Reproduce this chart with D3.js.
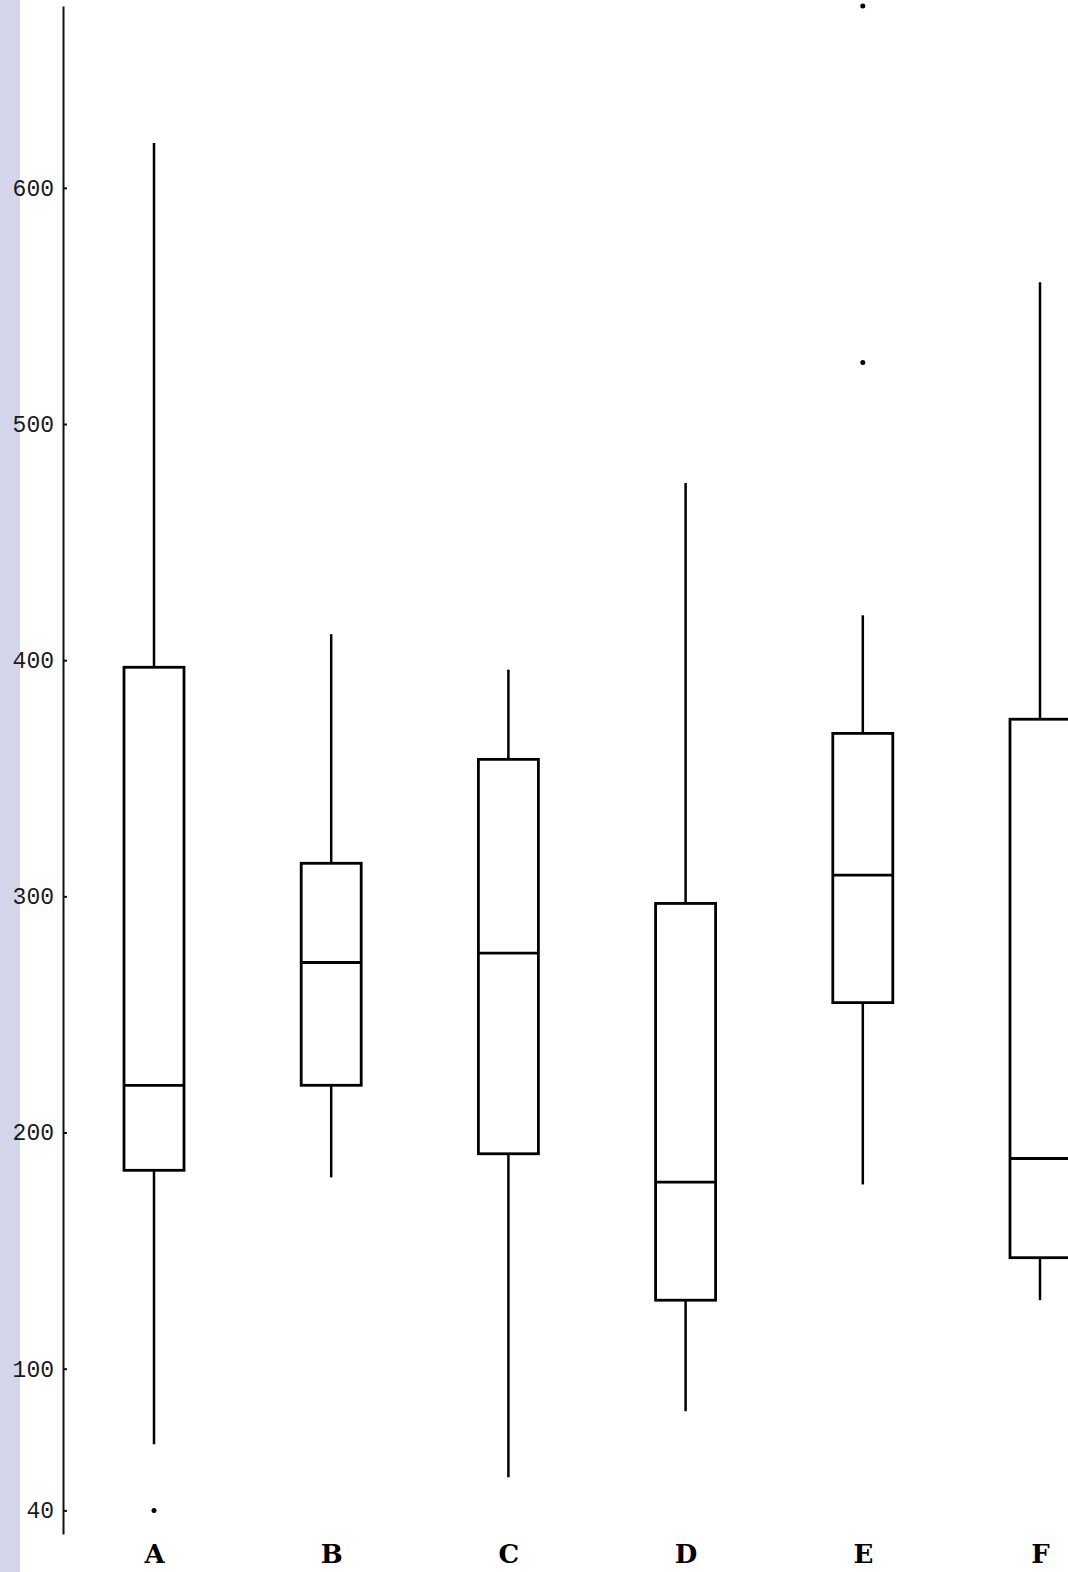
<!DOCTYPE html>
<html>
<head>
<meta charset="utf-8">
<script src="https://cdn.jsdelivr.net/npm/d3@7"></script>
<style>
  body { margin: 0; background: #fff; }
</style>
</head>
<body>
<script>
    // Box plot values
    let categories = ['A', 'B', 'C', 'D', 'E', 'F'];
    let whiskerHigh = [619, 411, 396, 475, 419, 560];
    let q3 = [397, 314, 358, 297, 369, 375];
    let median = [220, 272, 276, 179, 309, 189];
    let q1 = [184, 220, 191, 129, 255, 147];
    let whiskerLow = [68, 181, 54, 82, 178, 129];
    let outliers = [
        { cat: 'A', value: 40 },
        { cat: 'E', value: 526 },
        { cat: 'E', value: 677 }
    ];
    let tickValues = [40, 100, 200, 300, 400, 500, 600];

    let data = categories.map((c, i) => ({
        cat: c,
        hi: whiskerHigh[i],
        q3: q3[i],
        med: median[i],
        q1: q1[i],
        lo: whiskerLow[i]
    }));

    let width = 1068, height = 1572;
    let boxWidth = 60;

    let svg = d3
        .select('body')
        .append('svg')
        .attr('width', width)
        .attr('height', height)
        .style('display', 'block');

    // scanner edge strip on the left
    svg.append('rect')
        .attr('x', 0)
        .attr('y', 0)
        .attr('width', 20)
        .attr('height', height)
        .attr('fill', '#d3d5ea');

    // Scales
    let yScale = d3.scaleLinear()
        .domain([30, 677])
        .range([1534, 6]);

    let xScale = d3.scalePoint()
        .domain(categories)
        .range([154, 1040]);

    // Y axis
    let yAxis = svg
        .append('g')
        .attr('transform', 'translate(63,0)')
        .call(d3.axisLeft(yScale)
            .tickValues(tickValues)
            .tickSizeInner(-4)
            .tickSizeOuter(0)
            .tickPadding(9));

    yAxis.select('.domain')
        .attr('stroke', '#111')
        .attr('stroke-width', 2);
    yAxis.selectAll('.tick line')
        .attr('stroke', '#111')
        .attr('stroke-width', 2);
    yAxis.selectAll('.tick text')
        .style('font-family', '"Liberation Mono", "DejaVu Sans Mono", monospace')
        .style('font-size', '23px')
        .attr('fill', '#1a1a1a');

    // X axis (labels only)
    let xAxis = svg
        .append('g')
        .attr('transform', 'translate(0,1541)')
        .call(d3.axisBottom(xScale).tickSize(0).tickPadding(4));

    xAxis.select('.domain').remove();
    xAxis.selectAll('.tick text')
        .style('font-family', '"DejaVu Serif", serif')
        .style('font-weight', 'bold')
        .style('font-size', '26px')
        .attr('fill', '#000');

    // Boxes
    let group = svg.selectAll('.box')
        .data(data)
        .enter()
        .append('g')
        .attr('class', 'box');

    group.append('line')
        .attr('x1', d => xScale(d.cat))
        .attr('x2', d => xScale(d.cat))
        .attr('y1', d => yScale(d.hi))
        .attr('y2', d => yScale(d.q3))
        .attr('stroke', '#000')
        .attr('stroke-width', 2.5);

    group.append('line')
        .attr('x1', d => xScale(d.cat))
        .attr('x2', d => xScale(d.cat))
        .attr('y1', d => yScale(d.q1))
        .attr('y2', d => yScale(d.lo))
        .attr('stroke', '#000')
        .attr('stroke-width', 2.5);

    group.append('rect')
        .attr('x', d => xScale(d.cat) - boxWidth / 2)
        .attr('y', d => yScale(d.q3))
        .attr('width', boxWidth)
        .attr('height', d => yScale(d.q1) - yScale(d.q3))
        .attr('fill', '#fff')
        .attr('stroke', '#000')
        .attr('stroke-width', 2.8);

    group.append('line')
        .attr('x1', d => xScale(d.cat) - boxWidth / 2)
        .attr('x2', d => xScale(d.cat) + boxWidth / 2)
        .attr('y1', d => yScale(d.med))
        .attr('y2', d => yScale(d.med))
        .attr('stroke', '#000')
        .attr('stroke-width', 2.8);

    // Outlier specks
    svg.selectAll('.outlier')
        .data(outliers)
        .enter()
        .append('circle')
        .attr('class', 'outlier')
        .attr('cx', d => xScale(d.cat))
        .attr('cy', d => yScale(d.value))
        .attr('r', 2.5)
        .attr('fill', '#000');
</script>
</body>
</html>
